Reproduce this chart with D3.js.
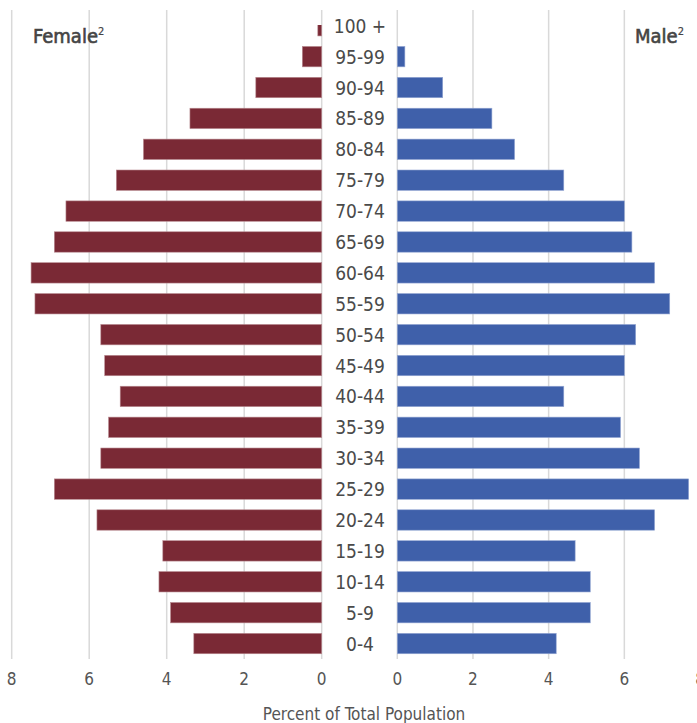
<!DOCTYPE html>
<html>
<head>
<meta charset="utf-8">
<script src="https://cdn.jsdelivr.net/npm/d3@7"></script>
<style>
  body { margin: 0; background: #fff; }
  text { font-family: "DejaVu Sans Condensed", "DejaVu Sans", sans-serif; font-stretch: condensed; fill: #4a4a4a; }
</style>
</head>
<body>
<div id="chart"></div>
<script>
const ages = ['100 +','95-99','90-94','85-89','80-84','75-79','70-74','65-69','60-64','55-59',
              '50-54','45-49','40-44','35-39','30-34','25-29','20-24','15-19','10-14','5-9','0-4'];
const female = [0.1,0.5,1.7,3.4,4.6,5.3,6.6,6.9,7.5,7.4,5.7,5.6,5.2,5.5,5.7,6.9,5.8,4.1,4.2,3.9,3.3];
const male   = [0,0.2,1.2,2.5,3.1,4.4,6.0,6.2,6.8,7.2,6.3,6.0,4.4,5.9,6.4,7.7,6.8,4.7,5.1,5.1,4.2];
const ticks = [0,2,4,6,8];

const W = 697, H = 723;
const svg = d3.select('#chart').append('svg').attr('width', W).attr('height', H);

const y = d3.scaleBand().domain(ages).range([10.3, 659]).paddingInner(0.34).paddingOuter(0.17);
const xl = d3.scaleLinear().domain([0,8]).range([321.7, 11.7]);
const xr = d3.scaleLinear().domain([0,8]).range([397.3, 700]);

// grid
const grid = svg.append('g');
grid.selectAll('.gl').data(ticks).enter().append('line')
  .attr('x1', d=>xl(d)).attr('x2', d=>xl(d)).attr('y1', 10).attr('y2', 659)
  .attr('stroke', '#d9d9d9').attr('stroke-width', 1.5);
grid.selectAll('.gr').data(ticks).enter().append('line')
  .attr('x1', d=>xr(d)).attr('x2', d=>xr(d)).attr('y1', 10).attr('y2', 659)
  .attr('stroke', '#d9d9d9').attr('stroke-width', 1.5);

svg.append('clipPath').attr('id', 'plotclip')
  .append('rect').attr('x', 0).attr('y', 25).attr('width', W).attr('height', 640);

const bars = svg.append('g').attr('clip-path', 'url(#plotclip)');
bars.selectAll('.f').data(female).enter().append('rect')
  .attr('x', d=>xl(d)).attr('y', (d,i)=>y(ages[i]))
  .attr('width', d=>xl(0)-xl(d)).attr('height', y.bandwidth())
  .attr('fill', '#7a2935').attr('stroke', '#b88a90').attr('stroke-width', 0.6);
bars.selectAll('.m').data(male).enter().append('rect')
  .attr('x', xr(0)).attr('y', (d,i)=>y(ages[i]))
  .attr('width', d=>xr(d)-xr(0)).attr('height', y.bandwidth())
  .attr('fill', '#3f60aa').attr('stroke', '#93a6d2').attr('stroke-width', d=>d>0?0.6:0);

// age labels
svg.selectAll('.age').data(ages).enter().append('text')
  .attr('x', 360).attr('y', d=>y(d)+y.bandwidth()/2)
  .attr('text-anchor', 'middle').attr('dominant-baseline', 'central')
  .style('font-size', '19px').text(d=>d);

// tick labels
svg.selectAll('.tl').data(ticks).enter().append('text')
  .attr('x', d=>xl(d)).attr('y', 685).attr('text-anchor', 'middle')
  .style('font-size', '17px').style('fill', '#555').text(d=>d);
svg.selectAll('.tr').data(ticks).enter().append('text')
  .attr('x', d=>xr(d)).attr('y', 685).attr('text-anchor', 'middle')
  .style('font-size', '17px').style('fill', '#555').text(d=>d);

svg.append('text').attr('x', 364).attr('y', 720).attr('text-anchor', 'middle')
  .style('font-size', '17px').style('fill', '#555').text('Percent of Total Population');

// series titles
const ft = svg.append('text').attr('x', 33).attr('y', 42.5)
  .style('font-size', '20px').style('fill', '#444')
  .style('stroke', '#444').style('stroke-width', 0.6);
ft.append('tspan').text('Female');
ft.append('tspan').attr('dy', -8).style('font-size', '11px').style('stroke-width', 0.2).text('2');

const mt = svg.append('text').attr('x', 635).attr('y', 42.5)
  .style('font-size', '20px').style('fill', '#444')
  .style('stroke', '#444').style('stroke-width', 0.6);
mt.append('tspan').text('Male');
mt.append('tspan').attr('dy', -8).style('font-size', '11px').style('stroke-width', 0.2).text('2');
</script>
</body>
</html>
